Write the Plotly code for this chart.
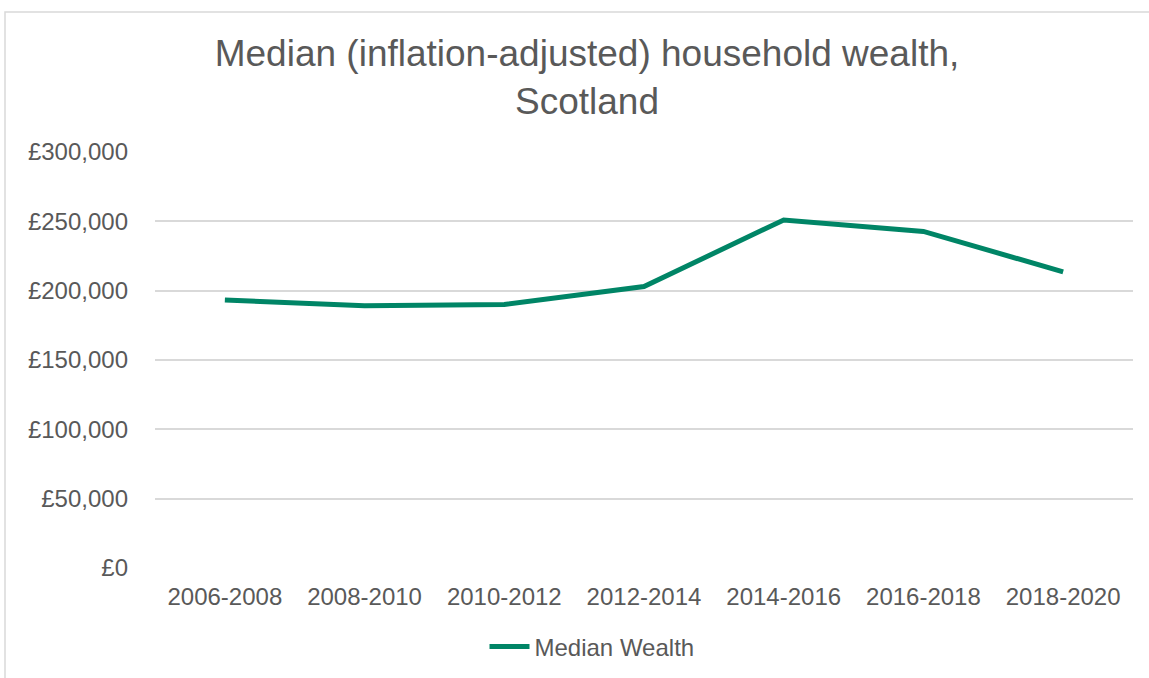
import plotly.graph_objects as go

# Survey periods and median household wealth (inflation-adjusted, £)
periods = ["2006-2008", "2008-2010", "2010-2012", "2012-2014",
           "2014-2016", "2016-2018", "2018-2020"]
median_wealth = [193300, 189200, 190000, 203000, 251000, 242700, 213600]

y_ticks = [0, 50000, 100000, 150000, 200000, 250000, 300000]
y_tick_text = ["£{:,}".format(v) for v in y_ticks]

W, H = 1149, 678
L, R, T, B = 155, 16, 152, 110
plot_w = W - L - R
plot_h = H - T - B

GREEN = "#008566"
TEXT = "#595959"
GRID = "#d9d9d9"
FONT = "Liberation Sans, Arial, sans-serif"

fig = go.Figure()
fig.add_trace(go.Scatter(
    x=periods, y=median_wealth, mode="lines", name="Median Wealth",
    line=dict(color=GREEN, width=5, shape="linear"),
))

# outer chart frame
def px_to_paper_x(p):
    return (p - L) / plot_w

def px_to_paper_y(p):
    return (H - B - p) / plot_h

fig.add_shape(type="rect", xref="paper", yref="paper",
              x0=px_to_paper_x(5), x1=px_to_paper_x(W + 10),
              y0=px_to_paper_y(H + 10), y1=px_to_paper_y(12),
              line=dict(color="#d9d9d9", width=1.5), fillcolor="rgba(0,0,0,0)",
              layer="below")

fig.update_layout(
    width=W, height=H,
    margin=dict(l=L, r=R, t=T, b=B, pad=0, autoexpand=False),
    paper_bgcolor="white", plot_bgcolor="white",
    font=dict(family=FONT, color=TEXT, size=24),
    title=dict(text="Median (inflation-adjusted) household wealth,<br>Scotland",
               x=587 / W, xref="container", xanchor="center",
               y=1 - 66 / H, yref="container", yanchor="top",
               font=dict(size=37, color=TEXT, family=FONT)),
    showlegend=True,
    legend=dict(orientation="h", x=592 / W, xanchor="center",
                y=1 - 647 / H, yanchor="middle", xref="container", yref="container",
                font=dict(size=24, color=TEXT), itemwidth=40,
                bgcolor="rgba(0,0,0,0)"),
    xaxis=dict(range=[-0.5, 6.5], showgrid=False, showline=False, zeroline=False,
               ticks="", automargin=False,
               tickfont=dict(size=24, color=TEXT), ticklabelstandoff=12),
    yaxis=dict(range=[0, 300000], tickvals=y_ticks, ticktext=y_tick_text,
               showgrid=True, gridcolor=GRID, gridwidth=1.5, automargin=False,
               zeroline=False, showline=False, ticks="",
               tickfont=dict(size=24, color=TEXT), ticklabelstandoff=26),
)

fig.write_html("out.html")
